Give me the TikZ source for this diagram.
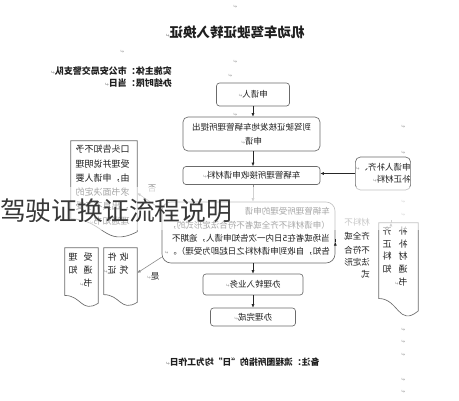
\documentclass[tikz,border=0pt]{standalone}
\usepackage{fontspec}
\newfontfamily\cjk{Noto Sans CJK SC}
\newfontfamily\symf{DejaVu Sans}
\usetikzlibrary{arrows.meta,calc}
\newcommand\ret{{\symf\fontsize{5}{5}\selectfont\color{black!40}↵}}
\newcommand\wavedoc[1]{\draw[docline] (#1.north west) -- (#1.north east) -- ($(#1.north east)!0.802!(#1.south east)$) .. controls ($(#1.north)!0.802!(#1.south)$) and ($(#1.north)!1.107!(#1.south)$) .. ($(#1.north west)!0.934!(#1.south west)$) -- cycle;}
\begin{document}
\begin{tikzpicture}[x=1pt,y=-1pt,
  box/.style={draw=black!58, line width=0.65pt, rounded corners=3pt, inner sep=0pt, font=\cjk\fontsize{8.5}{13}\selectfont, text=black!88},
  docshape/.style={rectangle, inner sep=0pt},
  docline/.style={draw=black!58, line width=0.65pt},
  txt/.style={inner sep=0pt, font=\cjk\fontsize{8.5}{13}\selectfont, text=black!88},
  arr/.style={-{Latex[length=3.5pt,width=3pt]}, line width=0.6pt, draw=black!85},
  garr/.style={-{Latex[length=3.5pt,width=3pt]}, line width=0.6pt, draw=black!45},
  retmark/.style={inner sep=0pt, font=\symf\fontsize{5}{5}\selectfont, text=black!40}]
\useasboundingbox[fill=white] (0,0) rectangle (459,400);
\begin{scope}[shift={(459,0)}, xscale=-1, every node/.append style={transform shape}]
  % title and info
  \node[txt, font=\cjk\bfseries\fontsize{13.5}{14}\selectfont] (title) at (224,32) {机动车驾驶证转入换证\ret};
  \node[txt, anchor=west, font=\cjk\bfseries\fontsize{9}{10}\selectfont] (info1) at (287,71) {实施主体：市公安局交警支队\ret};
  \node[txt, anchor=west, font=\cjk\bfseries\fontsize{9}{10}\selectfont] (info2) at (287,83) {办结时限：当日\ret};
  % main column
  \node[box, minimum width=73, minimum height=23] (apply) at (206,94.5) {申请人\ret};
  \node[box, minimum width=137, minimum height=34, align=center, rounded corners=5pt, font=\cjk\fontsize{8.5}{14}\selectfont] (submit) at (207.5,134) {到驾驶证核发地车辆管理所提出\\申请\ret};
  \node[box, minimum width=137, minimum height=18] (receive) at (207.5,175.5) {车辆管理所接收申请材料\ret};
  \node[box, minimum width=50, minimum height=33, align=left, rounded corners=5pt, font=\cjk\fontsize{8.5}{12}\selectfont] (supp) at (76,173.5) {申请人补齐、\ret\\补正材料\ret};
  \node[box, minimum width=173, minimum height=61, rounded corners=9pt] (accept) at (210.5,232.5) {};
  \node[txt, anchor=north west, align=left] (accepttxt) at (129,207) {车辆管理所受理的申请\\[1.5pt]（申请材料不齐全或者不符合法定形式的，\\当场或者在5日内一次告知申请人，逾期不\\告知，自收到申请材料之日起即为受理）。\ret};
  \node[box, minimum width=100, minimum height=21] (trans) at (206,284.5) {办理转入业务\ret};
  \node[box, minimum width=85, minimum height=18] (done) at (206,317) {办理完成\ret};
  % documents
  \node[docshape, minimum width=39, minimum height=94] (rdoc) at (60.5,270) {};
  \wavedoc{rdoc}
  \node[txt, anchor=north, align=left, font=\cjk\fontsize{9}{12.8}\selectfont] (rdoctxt) at (64,226.5) {补\hspace{7pt}齐\\补\hspace{7pt}正\\材\hspace{7pt}料\\通\hspace{7pt}知\\书\ret};
  \node[docshape, minimum width=66, minimum height=97] (ldoc) at (355,189.5) {};
  \wavedoc{ldoc}
  \node[txt, anchor=north, align=left, font=\cjk\fontsize{9}{14.3}\selectfont] (ldoctxt) at (356.5,145) {口头告知不予\\受理并说明理\\由，申请人要\\求书面决定的\\，出具不予受\\理通知书\ret};
  \node[docshape, minimum width=33, minimum height=59] (docA) at (377.5,277.5) {};
  \wavedoc{docA}
  \node[txt, anchor=north, align=left, font=\cjk\fontsize{9}{13}\selectfont] (docAtxt) at (378.5,252.5) {受\hspace{6pt}理\\通\hspace{6pt}知\\书\ret};
  \node[docshape, minimum width=33, minimum height=58] (docB) at (338.5,277) {};
  \wavedoc{docB}
  \node[txt, anchor=north, align=left, font=\cjk\fontsize{9}{13}\selectfont] (docBtxt) at (343,252.5) {收\hspace{3pt}件\\凭\hspace{3pt}证\ret};
  % labels
  \node[txt, anchor=north west, align=left, font=\cjk\fontsize{8.5}{13.5}\selectfont, text=black!55] (lab1) at (89,218) {材料不};
  \node[txt, anchor=north west, align=left, font=\cjk\fontsize{8.5}{13}\selectfont] (lab1b) at (89,232) {齐全或};
  \node[txt, anchor=north west, align=left, font=\cjk\fontsize{8.5}{12.3}\selectfont] (lab2) at (89,246) {不符合\\法定形\\式};
  \node[txt] (yes) at (306,276) {是\ret};
  \node[txt, text=black!45] (no) at (307,189) {否};
  % connectors
  \draw[arr] (apply.south) -- (apply.south |- submit.north);
  \draw[arr] (submit.south -| apply.south) -- (receive.north -| apply.south);
  \draw[arr] (supp.east) -- (supp.east -| receive.west);
  \draw[garr] (receive.south -| apply.south) -- (accept.north -| apply.south);
  \draw[arr] (accept.south -| trans.north) -- (trans.north);
  \draw[arr] (trans.south) -- (done.north);
  \draw[arr] ($(accept.west)!0.31!(accept.south west)$) -- ($(accept.west)!0.31!(accept.south west)$ -| rdoc.east);
  \draw[garr] ($(rdoc.north)!0.385!(rdoc.north east)$) -- ($(rdoc.north)!0.385!(rdoc.north east)$ |- supp.south);
  \draw[garr] ($(accept.east)!0.8!(accept.south east)$) -- ($(docB.north west)!0.43!(docB.south west)$);
  \draw[garr] ($(accept.north east)!0.13!(accept.south east)$) -- ($(ldoc.north west)!0.536!(ldoc.south west)$);
  % note
  \node[txt, font=\cjk\bfseries\fontsize{8.8}{10}\selectfont] (note) at (216.5,362) {备注：流程图所指的“日”均为工作日\ret};
  % stray paragraph marks
  \foreach \i/\x/\y in {1/224/7,2/337/52,3/224/62,4/229/76,5/224/115,6/56/127,7/56/153,8/56/202,9/56/215,10/56/330,11/56/342,12/56/355,13/56/380,14/56/392}
    \node[retmark] (m\i) at (\x,\y) {↵};
\end{scope}
% translucent band and overlay caption
\fill[white, opacity=0.6] (0,187) rectangle (459,230);
\node[inner sep=0pt, anchor=west, font=\cjk\fontsize{25.8}{26}\selectfont, text=black!78] (caption) at (0,211) {驾驶证换证流程说明};
\end{tikzpicture}
\end{document}
